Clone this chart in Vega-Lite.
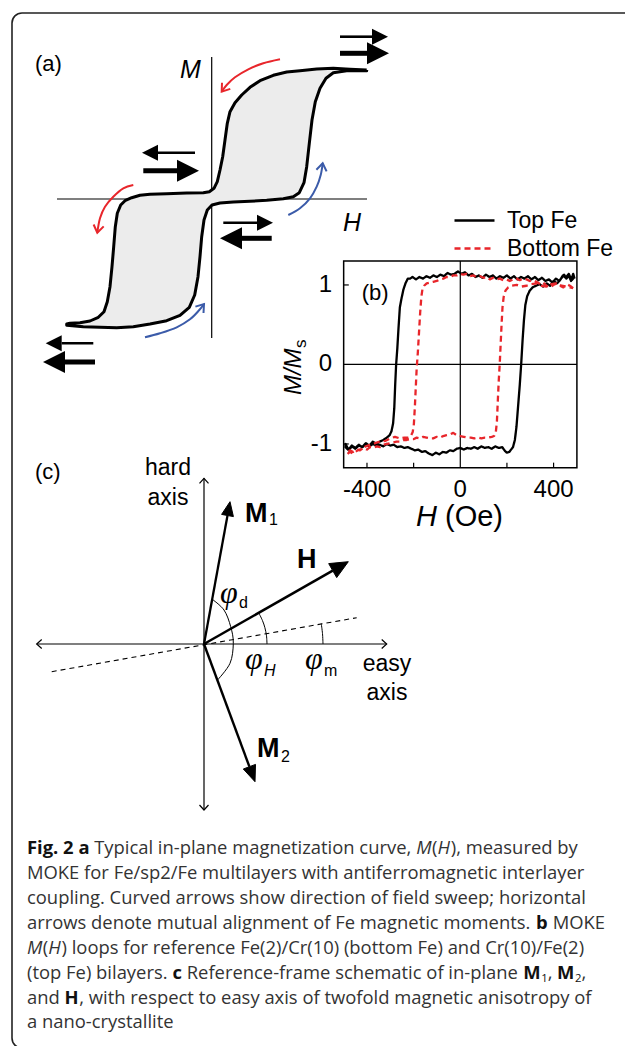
{
"$schema":"https://vega.github.io/schema/vega-lite/v6.json",
"width":625,"height":1046,
"autosize":{"type":"none"},
"padding":0,
"background":"white",
"config":{"view":{"stroke":null},"text":{"font":"Liberation Sans"}},
"resolve":{"scale":{"x":"independent","y":"independent"}},
"datasets":{
"loopA":[{"h":1.557,"m":1.29},{"h":1.39,"m":1.297},{"h":1.223,"m":1.307},{"h":1.057,"m":1.3},{"h":0.89,"m":1.283},{"h":0.757,"m":1.27},{"h":0.623,"m":1.237},{"h":0.49,"m":1.183},{"h":0.39,"m":1.117},{"h":0.307,"m":1.04},{"h":0.24,"m":0.963},{"h":0.19,"m":0.873},{"h":0.163,"m":0.757},{"h":0.14,"m":0.59},{"h":0.117,"m":0.423},{"h":0.09,"m":0.29},{"h":0.063,"m":0.173},{"h":0.03,"m":0.107},{"h":-0.017,"m":0.073},{"h":-0.077,"m":0.063},{"h":-0.243,"m":0.06},{"h":-0.443,"m":0.053},{"h":-0.61,"m":0.047},{"h":-0.71,"m":0.037},{"h":-0.793,"m":0.013},{"h":-0.86,"m":-0.017},{"h":-0.903,"m":-0.06},{"h":-0.937,"m":-0.143},{"h":-0.957,"m":-0.277},{"h":-0.973,"m":-0.477},{"h":-0.99,"m":-0.677},{"h":-1.01,"m":-0.877},{"h":-1.037,"m":-1.027},{"h":-1.07,"m":-1.127},{"h":-1.127,"m":-1.183},{"h":-1.21,"m":-1.22},{"h":-1.31,"m":-1.237},{"h":-1.41,"m":-1.243},{"h":-1.443,"m":-1.25},{"h":-1.443,"m":-1.263},{"h":-1.277,"m":-1.277},{"h":-1.11,"m":-1.283},{"h":-0.943,"m":-1.287},{"h":-0.777,"m":-1.277},{"h":-0.61,"m":-1.25},{"h":-0.443,"m":-1.217},{"h":-0.31,"m":-1.163},{"h":-0.217,"m":-1.083},{"h":-0.163,"m":-0.96},{"h":-0.13,"m":-0.777},{"h":-0.11,"m":-0.577},{"h":-0.093,"m":-0.377},{"h":-0.07,"m":-0.21},{"h":-0.037,"m":-0.11},{"h":0.01,"m":-0.06},{"h":0.09,"m":-0.04},{"h":0.223,"m":-0.03},{"h":0.39,"m":-0.023},{"h":0.557,"m":-0.013},{"h":0.723,"m":0.003},{"h":0.823,"m":0.023},{"h":0.883,"m":0.063},{"h":0.93,"m":0.163},{"h":0.957,"m":0.323},{"h":0.983,"m":0.557},{"h":1.01,"m":0.79},{"h":1.043,"m":0.973},{"h":1.09,"m":1.107},{"h":1.15,"m":1.207},{"h":1.223,"m":1.263},{"h":1.357,"m":1.283},{"h":1.557,"m":1.283},{"h":1.557,"m":1.29}],
"spinA":[{"pair":"TR","layer":"thin","dir":"right","h0":1.29,"h1":1.61,"m":1.623},{"pair":"TR","layer":"thick","dir":"right","h0":1.29,"h1":1.56,"m":1.457},{"pair":"ML","layer":"thin","dir":"left","h0":-0.16,"h1":-0.53,"m":0.463},{"pair":"ML","layer":"thick","dir":"right","h0":-0.677,"h1":-0.34,"m":0.283},{"pair":"RM","layer":"thin","dir":"right","h0":0.123,"h1":0.46,"m":-0.237},{"pair":"RM","layer":"thick","dir":"left","h0":0.607,"h1":0.31,"m":-0.393},{"pair":"BL","layer":"thin","dir":"left","h0":-1.177,"h1":-1.493,"m":-1.443},{"pair":"BL","layer":"thick","dir":"left","h0":-1.16,"h1":-1.46,"m":-1.63}],
"sweepArcs":[{"seg":"r1","sweep":"down","h":0.69,"m":1.397},{"seg":"r1","sweep":"down","h":0.523,"m":1.357},{"seg":"r1","sweep":"down","h":0.373,"m":1.297},{"seg":"r1","sweep":"down","h":0.24,"m":1.217},{"seg":"r1","sweep":"down","h":0.157,"m":1.14},{"seg":"r1","sweep":"down","h":0.107,"m":1.073},
{"seg":"r2","sweep":"down","h":-0.777,"m":0.14},{"seg":"r2","sweep":"down","h":-0.877,"m":0.107},{"seg":"r2","sweep":"down","h":-0.977,"m":0.023},{"seg":"r2","sweep":"down","h":-1.06,"m":-0.077},{"seg":"r2","sweep":"down","h":-1.11,"m":-0.193},{"seg":"r2","sweep":"down","h":-1.137,"m":-0.337},
{"seg":"b1","sweep":"up","h":-0.66,"m":-1.383},{"seg":"b1","sweep":"up","h":-0.51,"m":-1.343},{"seg":"b1","sweep":"up","h":-0.343,"m":-1.283},{"seg":"b1","sweep":"up","h":-0.21,"m":-1.203},{"seg":"b1","sweep":"up","h":-0.117,"m":-1.11},{"seg":"b1","sweep":"up","h":-0.07,"m":-1.05},
{"seg":"b2","sweep":"up","h":0.773,"m":-0.16},{"seg":"b2","sweep":"up","h":0.89,"m":-0.093},{"seg":"b2","sweep":"up","h":0.99,"m":0.007},{"seg":"b2","sweep":"up","h":1.057,"m":0.123},{"seg":"b2","sweep":"up","h":1.097,"m":0.24},{"seg":"b2","sweep":"up","h":1.117,"m":0.357}],
"sweepHeads":[{"seg":"r1","sweep":"down","h":0.193,"m":1.101},{"seg":"r1","sweep":"down","h":0.107,"m":1.073},{"seg":"r1","sweep":"down","h":0.11,"m":1.163},
{"seg":"r2","sweep":"down","h":-1.073,"m":-0.274},{"seg":"r2","sweep":"down","h":-1.137,"m":-0.337},{"seg":"r2","sweep":"down","h":-1.174,"m":-0.255},
{"seg":"b1","sweep":"up","h":-0.156,"m":-1.076},{"seg":"b1","sweep":"up","h":-0.07,"m":-1.05},{"seg":"b1","sweep":"up","h":-0.075,"m":-1.14},
{"seg":"b2","sweep":"up","h":1.054,"m":0.293},{"seg":"b2","sweep":"up","h":1.117,"m":0.357},{"seg":"b2","sweep":"up","h":1.156,"m":0.276}],
"moke":[
{"s":"Top Fe","H":490,"M":1.1},{"s":"Top Fe","H":478,"M":1.06},{"s":"Top Fe","H":465,"M":1.14},{"s":"Top Fe","H":452,"M":1.09},{"s":"Top Fe","H":440,"M":1.12},{"s":"Top Fe","H":425,"M":1.05},{"s":"Top Fe","H":410,"M":1.08},{"s":"Top Fe","H":395,"M":1.03},{"s":"Top Fe","H":380,"M":1.07},{"s":"Top Fe","H":365,"M":1.05},{"s":"Top Fe","H":350,"M":1.09},{"s":"Top Fe","H":335,"M":1.06},{"s":"Top Fe","H":320,"M":1.1},{"s":"Top Fe","H":305,"M":1.07},{"s":"Top Fe","H":290,"M":1.11},{"s":"Top Fe","H":275,"M":1.08},{"s":"Top Fe","H":260,"M":1.1},{"s":"Top Fe","H":245,"M":1.07},{"s":"Top Fe","H":230,"M":1.11},{"s":"Top Fe","H":215,"M":1.08},{"s":"Top Fe","H":200,"M":1.12},{"s":"Top Fe","H":185,"M":1.09},{"s":"Top Fe","H":170,"M":1.11},{"s":"Top Fe","H":155,"M":1.08},{"s":"Top Fe","H":140,"M":1.12},{"s":"Top Fe","H":125,"M":1.1},{"s":"Top Fe","H":110,"M":1.13},{"s":"Top Fe","H":95,"M":1.09},{"s":"Top Fe","H":80,"M":1.12},{"s":"Top Fe","H":65,"M":1.1},{"s":"Top Fe","H":50,"M":1.14},{"s":"Top Fe","H":35,"M":1.12},{"s":"Top Fe","H":20,"M":1.16},{"s":"Top Fe","H":5,"M":1.14},{"s":"Top Fe","H":-10,"M":1.17},{"s":"Top Fe","H":-25,"M":1.14},{"s":"Top Fe","H":-40,"M":1.13},{"s":"Top Fe","H":-55,"M":1.15},{"s":"Top Fe","H":-70,"M":1.11},{"s":"Top Fe","H":-85,"M":1.13},{"s":"Top Fe","H":-100,"M":1.1},{"s":"Top Fe","H":-115,"M":1.12},{"s":"Top Fe","H":-130,"M":1.09},{"s":"Top Fe","H":-145,"M":1.11},{"s":"Top Fe","H":-160,"M":1.08},{"s":"Top Fe","H":-175,"M":1.1},{"s":"Top Fe","H":-190,"M":1.07},{"s":"Top Fe","H":-205,"M":1.1},{"s":"Top Fe","H":-215,"M":1.08},{"s":"Top Fe","H":-225,"M":1.08},{"s":"Top Fe","H":-235,"M":1.02},{"s":"Top Fe","H":-244,"M":0.94},{"s":"Top Fe","H":-252,"M":0.83},{"s":"Top Fe","H":-259,"M":0.72},{"s":"Top Fe","H":-265,"M":0.45},{"s":"Top Fe","H":-270,"M":0.2},{"s":"Top Fe","H":-275,"M":0.0},{"s":"Top Fe","H":-279,"M":-0.25},{"s":"Top Fe","H":-283,"M":-0.55},{"s":"Top Fe","H":-288,"M":-0.74},{"s":"Top Fe","H":-295,"M":-0.84},{"s":"Top Fe","H":-303,"M":-0.89},{"s":"Top Fe","H":-315,"M":-0.92},{"s":"Top Fe","H":-330,"M":-0.95},{"s":"Top Fe","H":-345,"M":-0.97},{"s":"Top Fe","H":-360,"M":-1.0},{"s":"Top Fe","H":-375,"M":-0.97},{"s":"Top Fe","H":-390,"M":-1.02},{"s":"Top Fe","H":-405,"M":-0.99},{"s":"Top Fe","H":-420,"M":-1.04},{"s":"Top Fe","H":-435,"M":-1.01},{"s":"Top Fe","H":-450,"M":-1.05},{"s":"Top Fe","H":-465,"M":-1.02},{"s":"Top Fe","H":-480,"M":-1.07},{"s":"Top Fe","H":-492,"M":-1.0},
{"s":"Top Fe","H":-492,"M":-1.04},{"s":"Top Fe","H":-478,"M":-1.08},{"s":"Top Fe","H":-465,"M":-1.03},{"s":"Top Fe","H":-450,"M":-1.06},{"s":"Top Fe","H":-435,"M":-1.02},{"s":"Top Fe","H":-420,"M":-1.04},{"s":"Top Fe","H":-405,"M":-1.01},{"s":"Top Fe","H":-390,"M":-1.03},{"s":"Top Fe","H":-375,"M":-1.0},{"s":"Top Fe","H":-360,"M":-1.02},{"s":"Top Fe","H":-345,"M":-1.01},{"s":"Top Fe","H":-330,"M":-1.03},{"s":"Top Fe","H":-315,"M":-1.0},{"s":"Top Fe","H":-300,"M":-1.02},{"s":"Top Fe","H":-285,"M":-1.01},{"s":"Top Fe","H":-270,"M":-1.04},{"s":"Top Fe","H":-255,"M":-1.03},{"s":"Top Fe","H":-240,"M":-1.05},{"s":"Top Fe","H":-225,"M":-1.04},{"s":"Top Fe","H":-210,"M":-1.06},{"s":"Top Fe","H":-195,"M":-1.08},{"s":"Top Fe","H":-180,"M":-1.07},{"s":"Top Fe","H":-165,"M":-1.1},{"s":"Top Fe","H":-150,"M":-1.09},{"s":"Top Fe","H":-135,"M":-1.12},{"s":"Top Fe","H":-120,"M":-1.14},{"s":"Top Fe","H":-105,"M":-1.11},{"s":"Top Fe","H":-90,"M":-1.13},{"s":"Top Fe","H":-75,"M":-1.1},{"s":"Top Fe","H":-60,"M":-1.11},{"s":"Top Fe","H":-45,"M":-1.08},{"s":"Top Fe","H":-30,"M":-1.09},{"s":"Top Fe","H":-15,"M":-1.06},{"s":"Top Fe","H":0,"M":-1.05},{"s":"Top Fe","H":15,"M":-1.07},{"s":"Top Fe","H":30,"M":-1.05},{"s":"Top Fe","H":45,"M":-1.06},{"s":"Top Fe","H":60,"M":-1.04},{"s":"Top Fe","H":75,"M":-1.06},{"s":"Top Fe","H":90,"M":-1.03},{"s":"Top Fe","H":105,"M":-1.05},{"s":"Top Fe","H":120,"M":-1.04},{"s":"Top Fe","H":135,"M":-1.06},{"s":"Top Fe","H":150,"M":-1.03},{"s":"Top Fe","H":165,"M":-1.05},{"s":"Top Fe","H":180,"M":-1.04},{"s":"Top Fe","H":192,"M":-1.09},{"s":"Top Fe","H":200,"M":-1.11},{"s":"Top Fe","H":210,"M":-1.1},{"s":"Top Fe","H":226,"M":-1.04},{"s":"Top Fe","H":234,"M":-0.95},{"s":"Top Fe","H":241,"M":-0.78},{"s":"Top Fe","H":248,"M":-0.52},{"s":"Top Fe","H":255,"M":-0.26},{"s":"Top Fe","H":261,"M":0.0},{"s":"Top Fe","H":267,"M":0.3},{"s":"Top Fe","H":273,"M":0.56},{"s":"Top Fe","H":279,"M":0.75},{"s":"Top Fe","H":287,"M":0.86},{"s":"Top Fe","H":298,"M":0.93},{"s":"Top Fe","H":310,"M":0.97},{"s":"Top Fe","H":325,"M":0.99},{"s":"Top Fe","H":340,"M":1.01},{"s":"Top Fe","H":355,"M":0.98},{"s":"Top Fe","H":370,"M":1.02},{"s":"Top Fe","H":385,"M":0.99},{"s":"Top Fe","H":400,"M":1.05},{"s":"Top Fe","H":415,"M":1.02},{"s":"Top Fe","H":430,"M":1.07},{"s":"Top Fe","H":445,"M":1.13},{"s":"Top Fe","H":455,"M":1.08},{"s":"Top Fe","H":465,"M":1.12},{"s":"Top Fe","H":475,"M":1.05},{"s":"Top Fe","H":484,"M":1.14},{"s":"Top Fe","H":490,"M":1.08},
{"s":"Bottom Fe","H":484,"M":0.96},{"s":"Bottom Fe","H":470,"M":0.99},{"s":"Bottom Fe","H":456,"M":1.01},{"s":"Bottom Fe","H":442,"M":0.97},{"s":"Bottom Fe","H":427,"M":0.99},{"s":"Bottom Fe","H":413,"M":1.02},{"s":"Bottom Fe","H":399,"M":1.0},{"s":"Bottom Fe","H":385,"M":0.97},{"s":"Bottom Fe","H":370,"M":0.99},{"s":"Bottom Fe","H":356,"M":1.03},{"s":"Bottom Fe","H":342,"M":1.01},{"s":"Bottom Fe","H":327,"M":1.04},{"s":"Bottom Fe","H":313,"M":1.06},{"s":"Bottom Fe","H":298,"M":1.05},{"s":"Bottom Fe","H":284,"M":1.07},{"s":"Bottom Fe","H":270,"M":1.08},{"s":"Bottom Fe","H":255,"M":1.06},{"s":"Bottom Fe","H":241,"M":1.08},{"s":"Bottom Fe","H":227,"M":1.07},{"s":"Bottom Fe","H":212,"M":1.05},{"s":"Bottom Fe","H":198,"M":1.07},{"s":"Bottom Fe","H":184,"M":1.06},{"s":"Bottom Fe","H":170,"M":1.08},{"s":"Bottom Fe","H":155,"M":1.07},{"s":"Bottom Fe","H":141,"M":1.09},{"s":"Bottom Fe","H":127,"M":1.07},{"s":"Bottom Fe","H":113,"M":1.1},{"s":"Bottom Fe","H":99,"M":1.09},{"s":"Bottom Fe","H":85,"M":1.11},{"s":"Bottom Fe","H":70,"M":1.1},{"s":"Bottom Fe","H":56,"M":1.12},{"s":"Bottom Fe","H":42,"M":1.11},{"s":"Bottom Fe","H":27,"M":1.14},{"s":"Bottom Fe","H":13,"M":1.13},{"s":"Bottom Fe","H":0,"M":1.14},{"s":"Bottom Fe","H":-15,"M":1.12},{"s":"Bottom Fe","H":-30,"M":1.12},{"s":"Bottom Fe","H":-45,"M":1.1},{"s":"Bottom Fe","H":-59,"M":1.1},{"s":"Bottom Fe","H":-73,"M":1.08},{"s":"Bottom Fe","H":-87,"M":1.07},{"s":"Bottom Fe","H":-101,"M":1.05},{"s":"Bottom Fe","H":-116,"M":1.04},{"s":"Bottom Fe","H":-130,"M":1.03},{"s":"Bottom Fe","H":-144,"M":1.02},{"s":"Bottom Fe","H":-155,"M":0.99},{"s":"Bottom Fe","H":-162,"M":0.95},{"s":"Bottom Fe","H":-167,"M":0.85},{"s":"Bottom Fe","H":-172,"M":0.65},{"s":"Bottom Fe","H":-177,"M":0.4},{"s":"Bottom Fe","H":-182,"M":0.15},{"s":"Bottom Fe","H":-187,"M":-0.05},{"s":"Bottom Fe","H":-191,"M":-0.3},{"s":"Bottom Fe","H":-195,"M":-0.55},{"s":"Bottom Fe","H":-199,"M":-0.75},{"s":"Bottom Fe","H":-204,"M":-0.85},{"s":"Bottom Fe","H":-212,"M":-0.9},{"s":"Bottom Fe","H":-223,"M":-0.92},{"s":"Bottom Fe","H":-240,"M":-0.92},{"s":"Bottom Fe","H":-259,"M":-0.93},{"s":"Bottom Fe","H":-280,"M":-0.91},{"s":"Bottom Fe","H":-301,"M":-0.93},{"s":"Bottom Fe","H":-320,"M":-0.96},{"s":"Bottom Fe","H":-344,"M":-0.97},{"s":"Bottom Fe","H":-365,"M":-0.99},{"s":"Bottom Fe","H":-387,"M":-1.01},{"s":"Bottom Fe","H":-405,"M":-1.03},{"s":"Bottom Fe","H":-423,"M":-1.06},{"s":"Bottom Fe","H":-440,"M":-1.08},{"s":"Bottom Fe","H":-459,"M":-1.12},{"s":"Bottom Fe","H":-473,"M":-1.1},{"s":"Bottom Fe","H":-485,"M":-1.13},
{"s":"Bottom Fe","H":-485,"M":-1.11},{"s":"Bottom Fe","H":-473,"M":-1.08},{"s":"Bottom Fe","H":-459,"M":-1.1},{"s":"Bottom Fe","H":-445,"M":-1.07},{"s":"Bottom Fe","H":-430,"M":-1.08},{"s":"Bottom Fe","H":-415,"M":-1.05},{"s":"Bottom Fe","H":-400,"M":-1.07},{"s":"Bottom Fe","H":-387,"M":-1.04},{"s":"Bottom Fe","H":-372,"M":-1.05},{"s":"Bottom Fe","H":-358,"M":-1.03},{"s":"Bottom Fe","H":-344,"M":-1.04},{"s":"Bottom Fe","H":-330,"M":-1.01},{"s":"Bottom Fe","H":-315,"M":-1.0},{"s":"Bottom Fe","H":-301,"M":-0.99},{"s":"Bottom Fe","H":-287,"M":-0.98},{"s":"Bottom Fe","H":-273,"M":-0.97},{"s":"Bottom Fe","H":-259,"M":-0.97},{"s":"Bottom Fe","H":-245,"M":-0.95},{"s":"Bottom Fe","H":-230,"M":-0.95},{"s":"Bottom Fe","H":-215,"M":-0.94},{"s":"Bottom Fe","H":-201,"M":-0.94},{"s":"Bottom Fe","H":-187,"M":-0.92},{"s":"Bottom Fe","H":-173,"M":-0.93},{"s":"Bottom Fe","H":-159,"M":-0.91},{"s":"Bottom Fe","H":-145,"M":-0.92},{"s":"Bottom Fe","H":-130,"M":-0.93},{"s":"Bottom Fe","H":-116,"M":-0.93},{"s":"Bottom Fe","H":-101,"M":-0.91},{"s":"Bottom Fe","H":-87,"M":-0.92},{"s":"Bottom Fe","H":-73,"M":-0.9},{"s":"Bottom Fe","H":-59,"M":-0.89},{"s":"Bottom Fe","H":-45,"M":-0.88},{"s":"Bottom Fe","H":-30,"M":-0.86},{"s":"Bottom Fe","H":-15,"M":-0.89},{"s":"Bottom Fe","H":0,"M":-0.9},{"s":"Bottom Fe","H":15,"M":-0.91},{"s":"Bottom Fe","H":30,"M":-0.92},{"s":"Bottom Fe","H":45,"M":-0.92},{"s":"Bottom Fe","H":60,"M":-0.93},{"s":"Bottom Fe","H":75,"M":-0.92},{"s":"Bottom Fe","H":90,"M":-0.93},{"s":"Bottom Fe","H":105,"M":-0.92},{"s":"Bottom Fe","H":120,"M":-0.92},{"s":"Bottom Fe","H":135,"M":-0.91},{"s":"Bottom Fe","H":145,"M":-0.9},{"s":"Bottom Fe","H":152,"M":-0.86},{"s":"Bottom Fe","H":157,"M":-0.72},{"s":"Bottom Fe","H":161,"M":-0.45},{"s":"Bottom Fe","H":165,"M":-0.2},{"s":"Bottom Fe","H":169,"M":0.0},{"s":"Bottom Fe","H":173,"M":0.25},{"s":"Bottom Fe","H":177,"M":0.5},{"s":"Bottom Fe","H":181,"M":0.72},{"s":"Bottom Fe","H":186,"M":0.85},{"s":"Bottom Fe","H":194,"M":0.93},{"s":"Bottom Fe","H":206,"M":0.97},{"s":"Bottom Fe","H":220,"M":0.99},{"s":"Bottom Fe","H":242,"M":1.0},{"s":"Bottom Fe","H":263,"M":0.98},{"s":"Bottom Fe","H":284,"M":0.99},{"s":"Bottom Fe","H":305,"M":1.01},{"s":"Bottom Fe","H":327,"M":1.02},{"s":"Bottom Fe","H":348,"M":0.99},{"s":"Bottom Fe","H":370,"M":0.98},{"s":"Bottom Fe","H":391,"M":1.01},{"s":"Bottom Fe","H":413,"M":1.02},{"s":"Bottom Fe","H":434,"M":0.99},{"s":"Bottom Fe","H":456,"M":0.98},{"s":"Bottom Fe","H":470,"M":0.97},{"s":"Bottom Fe","H":484,"M":0.96}],
"linesC":[{"seg":"easy","u":-1.673,"v":0},{"seg":"easy","u":1.827,"v":0},{"seg":"eL","u":-1.623,"v":0.045},{"seg":"eL","u":-1.673,"v":0},{"seg":"eL","u":-1.623,"v":-0.045},{"seg":"eR","u":1.777,"v":0.045},{"seg":"eR","u":1.827,"v":0},{"seg":"eR","u":1.777,"v":-0.045},{"seg":"hard","u":0,"v":-1.66},{"seg":"hard","u":0,"v":1.657},{"seg":"hT","u":-0.045,"v":1.607},{"seg":"hT","u":0,"v":1.657},{"seg":"hT","u":0.045,"v":1.607},{"seg":"hB","u":-0.045,"v":-1.61},{"seg":"hB","u":0,"v":-1.66},{"seg":"hB","u":0.045,"v":-1.61}],
"arcsC":[{"seg":"phid","u":0.082,"v":0.447},{"seg":"phid","u":0.2,"v":0.34},{"seg":"phid","u":0.267,"v":0.173},{"seg":"phid","u":0.293,"v":0.007},{"seg":"phid","u":0.26,"v":-0.193},{"seg":"phid","u":0.135,"v":-0.36},{"seg":"phiH","u":0.547,"v":0.312},{"seg":"phiH","u":0.584,"v":0.236},{"seg":"phiH","u":0.609,"v":0.163},{"seg":"phiH","u":0.625,"v":0.082},{"seg":"phiH","u":0.63,"v":0},{"seg":"phim","u":1.172,"v":0.207},{"seg":"phim","u":1.185,"v":0.104},{"seg":"phim","u":1.19,"v":0}],
"shaftsC":[{"vector":"M1","u0":0,"v0":0,"u1":0.235,"v1":1.285},{"vector":"H","u0":0,"v0":0,"u1":1.287,"v1":0.734},{"vector":"M2","u0":0,"v0":0,"u1":0.454,"v1":-1.227}],
"headsC":[{"vector":"M1","u":0.26,"v":1.423},{"vector":"M1","u":0.294,"v":1.274},{"vector":"M1","u":0.176,"v":1.296},{"vector":"M1","u":0.26,"v":1.423},{"vector":"H","u":1.443,"v":0.823},{"vector":"H","u":1.327,"v":0.664},{"vector":"H","u":1.247,"v":0.804},{"vector":"H","u":1.443,"v":0.823},{"vector":"M2","u":0.51,"v":-1.377},{"vector":"M2","u":0.515,"v":-1.204},{"vector":"M2","u":0.393,"v":-1.25},{"vector":"M2","u":0.51,"v":-1.377}],
"caption":[
{"st":"b","ln":1,"em":0,"t":"Fig. 2 a"},{"st":"n","ln":1,"em":3.65,"t":"Typical in-plane magnetization curve,"},{"st":"i","ln":1,"em":21.157,"t":"M"},{"st":"n","ln":1,"em":22.017,"t":"("},{"st":"i","ln":1,"em":22.313,"t":"H"},{"st":"n","ln":1,"em":23.033,"t":"), measured by"},
{"st":"n","ln":2,"em":0,"t":"MOKE for Fe/sp2/Fe multilayers with antiferromagnetic interlayer"},
{"st":"n","ln":3,"em":0,"t":"coupling. Curved arrows show direction of field sweep; horizontal"},
{"st":"n","ln":4,"em":0,"t":"arrows denote mutual alignment of Fe magnetic moments."},{"st":"b","ln":4,"em":27.667,"t":"b"},{"st":"n","ln":4,"em":28.567,"t":"MOKE"},
{"st":"i","ln":5,"em":0,"t":"M"},{"st":"n","ln":5,"em":0.86,"t":"("},{"st":"i","ln":5,"em":1.156,"t":"H"},{"st":"n","ln":5,"em":1.876,"t":") loops for reference Fe(2)/Cr(10) (bottom Fe) and Cr(10)/Fe(2)"},
{"st":"n","ln":6,"em":0,"t":"(top Fe) bilayers."},{"st":"b","ln":6,"em":7.91,"t":"c"},{"st":"n","ln":6,"em":8.68,"t":"Reference-frame schematic of in-plane"},{"st":"b","ln":6,"em":26.969,"t":"M"},{"st":"s","ln":6,"em":27.949,"t":"1"},{"st":"n","ln":6,"em":28.3,"t":","},{"st":"b","ln":6,"em":28.805,"t":"M"},{"st":"s","ln":6,"em":29.785,"t":"2"},{"st":"n","ln":6,"em":30.135,"t":","},
{"st":"n","ln":7,"em":0,"t":"and"},{"st":"b","ln":7,"em":2.043,"t":"H"},{"st":"n","ln":7,"em":2.843,"t":", with respect to easy axis of twofold magnetic anisotropy of"},
{"st":"n","ln":8,"em":0,"t":"a nano-crystallite"}]
},
"layer":[
{"data":{"values":[{"left":12,"right":640,"top":13,"bottom":1048}]},
 "mark":{"type":"rect","fill":"transparent","stroke":"#222222","strokeWidth":1.6,"cornerRadius":10},
 "encoding":{"x":{"field":"left","type":"quantitative","scale":{"domain":[0,625],"nice":false,"zero":false},"axis":null},"x2":{"field":"right"},
  "y":{"field":"top","type":"quantitative","scale":{"domain":[0,1046],"nice":false,"zero":false,"reverse":true},"axis":null},"y2":{"field":"bottom"}}},

{"data":{"values":[{"h0":0.007,"h1":0.007,"m0":1.42,"m1":-1.39},{"h0":-1.54,"h1":1.56,"m0":0,"m1":0}]},
 "mark":{"type":"rule","color":"black","strokeWidth":1.2},
 "encoding":{"x":{"field":"h0","type":"quantitative","scale":{"domain":[-2.11,4.14],"nice":false,"zero":false},"axis":null},"x2":{"field":"h1"},
  "y":{"field":"m0","type":"quantitative","scale":{"domain":[-8.47,1.99],"nice":false,"zero":false},"axis":null},"y2":{"field":"m1"}}},

{"data":{"name":"loopA"},
 "mark":{"type":"line","fill":"#ececec","stroke":"black","strokeWidth":3,"strokeJoin":"round"},
 "encoding":{"x":{"field":"h","type":"quantitative","scale":{"domain":[-2.11,4.14],"nice":false,"zero":false},"axis":null},
  "y":{"field":"m","type":"quantitative","scale":{"domain":[-8.47,1.99],"nice":false,"zero":false},"axis":null},"order":{"value":null}}},

{"data":{"name":"spinA"},"transform":[{"filter":"datum.layer==='thin'"}],
 "mark":{"type":"rule","color":"black","strokeWidth":2.6},
 "encoding":{"x":{"field":"h0","type":"quantitative","scale":{"domain":[-2.11,4.14],"nice":false,"zero":false},"axis":null},"x2":{"field":"h1"},
  "y":{"field":"m","type":"quantitative","scale":{"domain":[-8.47,1.99],"nice":false,"zero":false},"axis":null}}},
{"data":{"name":"spinA"},"transform":[{"filter":"datum.layer==='thick'"}],
 "mark":{"type":"rule","color":"black","strokeWidth":5},
 "encoding":{"x":{"field":"h0","type":"quantitative","scale":{"domain":[-2.11,4.14],"nice":false,"zero":false},"axis":null},"x2":{"field":"h1"},
  "y":{"field":"m","type":"quantitative","scale":{"domain":[-8.47,1.99],"nice":false,"zero":false},"axis":null}}},
{"data":{"name":"spinA"},"transform":[{"filter":"datum.layer==='thin'"}],
 "mark":{"type":"point","filled":true,"color":"black","opacity":1,"size":256,"strokeWidth":0},
 "encoding":{"x":{"field":"h1","type":"quantitative","scale":{"domain":[-2.11,4.14],"nice":false,"zero":false},"axis":null},
  "y":{"field":"m","type":"quantitative","scale":{"domain":[-8.47,1.99],"nice":false,"zero":false},"axis":null},
  "shape":{"field":"dir","type":"nominal","scale":{"domain":["right","left"],"range":["M0,-1L2,0L0,1Z","M0,-1L-2,0L0,1Z"]},"legend":null}}},
{"data":{"name":"spinA"},"transform":[{"filter":"datum.layer==='thick'"}],
 "mark":{"type":"point","filled":true,"color":"black","opacity":1,"size":484,"strokeWidth":0},
 "encoding":{"x":{"field":"h1","type":"quantitative","scale":{"domain":[-2.11,4.14],"nice":false,"zero":false},"axis":null},
  "y":{"field":"m","type":"quantitative","scale":{"domain":[-8.47,1.99],"nice":false,"zero":false},"axis":null},
  "shape":{"field":"dir","type":"nominal","scale":{"domain":["right","left"],"range":["M0,-1L2,0L0,1Z","M0,-1L-2,0L0,1Z"]},"legend":null}}},

{"data":{"name":"sweepArcs"},
 "mark":{"type":"line","interpolate":"cardinal","strokeWidth":2},
 "encoding":{"x":{"field":"h","type":"quantitative","scale":{"domain":[-2.11,4.14],"nice":false,"zero":false},"axis":null},
  "y":{"field":"m","type":"quantitative","scale":{"domain":[-8.47,1.99],"nice":false,"zero":false},"axis":null},
  "detail":{"field":"seg"},"order":{"value":null},
  "stroke":{"field":"sweep","type":"nominal","scale":{"domain":["down","up"],"range":["#e8262b","#3b5ba9"]},"legend":null}}},
{"data":{"name":"sweepHeads"},
 "mark":{"type":"line","strokeWidth":2,"strokeJoin":"miter"},
 "encoding":{"x":{"field":"h","type":"quantitative","scale":{"domain":[-2.11,4.14],"nice":false,"zero":false},"axis":null},
  "y":{"field":"m","type":"quantitative","scale":{"domain":[-8.47,1.99],"nice":false,"zero":false},"axis":null},
  "detail":{"field":"seg"},"order":{"value":null},
  "stroke":{"field":"sweep","type":"nominal","scale":{"domain":["down","up"],"range":["#e8262b","#3b5ba9"]},"legend":null}}},

{"data":{"values":[{"t":"(a)","h":-1.76,"m":1.28}]},
 "mark":{"type":"text","fontSize":22,"align":"left","baseline":"alphabetic","color":"black"},
 "encoding":{"x":{"field":"h","type":"quantitative","scale":{"domain":[-2.11,4.14],"nice":false,"zero":false},"axis":null},
  "y":{"field":"m","type":"quantitative","scale":{"domain":[-8.47,1.99],"nice":false,"zero":false},"axis":null},"text":{"field":"t"}}},
{"data":{"values":[{"t":"M","h":-0.31,"m":1.21},{"t":"H","h":1.32,"m":-0.32}]},
 "mark":{"type":"text","fontSize":25,"fontStyle":"italic","align":"left","baseline":"alphabetic","color":"black"},
 "encoding":{"x":{"field":"h","type":"quantitative","scale":{"domain":[-2.11,4.14],"nice":false,"zero":false},"axis":null},
  "y":{"field":"m","type":"quantitative","scale":{"domain":[-8.47,1.99],"nice":false,"zero":false},"axis":null},"text":{"field":"t"}}},

{"data":{"values":[{"H0":-500,"H1":500,"M0":-1.3,"M1":1.3}]},
 "mark":{"type":"rect","fill":"white","stroke":"black","strokeWidth":1.5},
 "encoding":{"x":{"field":"H0","type":"quantitative","scale":{"domain":[-1973.4,706.2],"nice":false,"zero":false},"axis":null},"x2":{"field":"H1"},
  "y":{"field":"M0","type":"quantitative","scale":{"domain":[-8.572,4.584],"nice":false,"zero":false},"axis":null},"y2":{"field":"M1"}}},
{"data":{"values":[{"H0":0,"H1":0,"M0":-1.3,"M1":1.3},{"H0":-500,"H1":500,"M0":0,"M1":0}]},
 "mark":{"type":"rule","color":"black","strokeWidth":1.2},
 "encoding":{"x":{"field":"H0","type":"quantitative","scale":{"domain":[-1973.4,706.2],"nice":false,"zero":false},"axis":null},"x2":{"field":"H1"},
  "y":{"field":"M0","type":"quantitative","scale":{"domain":[-8.572,4.584],"nice":false,"zero":false},"axis":null},"y2":{"field":"M1"}}},
{"data":{"values":[{"H":-400},{"H":-200},{"H":200},{"H":400}]},
 "mark":{"type":"rule","color":"black","strokeWidth":1.2},
 "encoding":{"x":{"field":"H","type":"quantitative","scale":{"domain":[-1973.4,706.2],"nice":false,"zero":false},"axis":null},
  "y":{"datum":-1.3,"type":"quantitative","scale":{"domain":[-8.572,4.584],"nice":false,"zero":false},"axis":null},"y2":{"datum":-1.235}}},
{"data":{"values":[{"M":-1},{"M":1}]},
 "mark":{"type":"rule","color":"black","strokeWidth":1.2},
 "encoding":{"y":{"field":"M","type":"quantitative","scale":{"domain":[-8.572,4.584],"nice":false,"zero":false},"axis":null},
  "x":{"datum":-500,"type":"quantitative","scale":{"domain":[-1973.4,706.2],"nice":false,"zero":false},"axis":null},"x2":{"datum":-478}}},
{"data":{"name":"moke"},
 "mark":{"type":"line","strokeWidth":2.3,"strokeJoin":"round"},
 "encoding":{"x":{"field":"H","type":"quantitative","scale":{"domain":[-1973.4,706.2],"nice":false,"zero":false},"axis":null},
  "y":{"field":"M","type":"quantitative","scale":{"domain":[-8.572,4.584],"nice":false,"zero":false},"axis":null},
  "order":{"value":null},
  "color":{"field":"s","type":"nominal","scale":{"domain":["Top Fe","Bottom Fe"],"range":["#000000","#e8262b"]},
   "legend":{"title":null,"orient":"none","legendX":463,"legendY":209,"symbolType":"M-2,0H2","symbolSize":400,"symbolStrokeWidth":2.5,"labelFontSize":23,"labelFont":"Liberation Sans","labelColor":"black","labelOffset":21,"rowPadding":4,"padding":0}},
  "strokeDash":{"field":"s","type":"nominal","scale":{"domain":["Top Fe","Bottom Fe"],"range":[[1,0],[6,4]]},
   "legend":{"title":null,"orient":"none","legendX":463,"legendY":209,"symbolType":"M-2,0H2","symbolSize":400,"symbolStrokeWidth":2.5,"labelFontSize":23,"labelFont":"Liberation Sans","labelColor":"black","labelOffset":21,"rowPadding":4,"padding":0}}}},
{"data":{"values":[{"H":-400,"t":"-400"},{"H":0,"t":"0"},{"H":400,"t":"400"}]},
 "mark":{"type":"text","fontSize":24,"align":"center","baseline":"alphabetic","color":"black"},
 "encoding":{"x":{"field":"H","type":"quantitative","scale":{"domain":[-1973.4,706.2],"nice":false,"zero":false},"axis":null},
  "y":{"datum":-1.668,"type":"quantitative","scale":{"domain":[-8.572,4.584],"nice":false,"zero":false},"axis":null},"text":{"field":"t"}}},
{"data":{"values":[{"M":1,"t":"1"},{"M":0,"t":"0"},{"M":-1,"t":"-1"}]},
 "mark":{"type":"text","fontSize":24,"align":"right","baseline":"middle","color":"black"},
 "encoding":{"y":{"field":"M","type":"quantitative","scale":{"domain":[-8.572,4.584],"nice":false,"zero":false},"axis":null},
  "x":{"datum":-550,"type":"quantitative","scale":{"domain":[-1973.4,706.2],"nice":false,"zero":false},"axis":null},"text":{"field":"t"}}},
{"data":{"values":[{"t":"H","H":-190,"M":-2.035}]},
 "mark":{"type":"text","fontSize":29,"fontStyle":"italic","align":"left","baseline":"alphabetic","color":"black"},
 "encoding":{"x":{"field":"H","type":"quantitative","scale":{"domain":[-1973.4,706.2],"nice":false,"zero":false},"axis":null},
  "y":{"field":"M","type":"quantitative","scale":{"domain":[-8.572,4.584],"nice":false,"zero":false},"axis":null},"text":{"field":"t"}}},
{"data":{"values":[{"t":"(Oe)","H":-65.6,"M":-2.035}]},
 "mark":{"type":"text","fontSize":29,"align":"left","baseline":"alphabetic","color":"black"},
 "encoding":{"x":{"field":"H","type":"quantitative","scale":{"domain":[-1973.4,706.2],"nice":false,"zero":false},"axis":null},
  "y":{"field":"M","type":"quantitative","scale":{"domain":[-8.572,4.584],"nice":false,"zero":false},"axis":null},"text":{"field":"t"}}},
{"data":{"values":[{"t":"M/M","H":-683,"M":-0.385}]},
 "mark":{"type":"text","fontSize":24,"fontStyle":"italic","angle":270,"align":"left","baseline":"alphabetic","color":"black"},
 "encoding":{"x":{"field":"H","type":"quantitative","scale":{"domain":[-1973.4,706.2],"nice":false,"zero":false},"axis":null},
  "y":{"field":"M","type":"quantitative","scale":{"domain":[-8.572,4.584],"nice":false,"zero":false},"axis":null},"text":{"field":"t"}}},
{"data":{"values":[{"t":"s","H":-662,"M":0.206}]},
 "mark":{"type":"text","fontSize":17,"angle":270,"align":"left","baseline":"alphabetic","color":"black"},
 "encoding":{"x":{"field":"H","type":"quantitative","scale":{"domain":[-1973.4,706.2],"nice":false,"zero":false},"axis":null},
  "y":{"field":"M","type":"quantitative","scale":{"domain":[-8.572,4.584],"nice":false,"zero":false},"axis":null},"text":{"field":"t"}}},
{"data":{"values":[{"t":"(b)","H":-422.7,"M":0.81}]},
 "mark":{"type":"text","fontSize":22,"align":"left","baseline":"alphabetic","color":"black"},
 "encoding":{"x":{"field":"H","type":"quantitative","scale":{"domain":[-1973.4,706.2],"nice":false,"zero":false},"axis":null},
  "y":{"field":"M","type":"quantitative","scale":{"domain":[-8.572,4.584],"nice":false,"zero":false},"axis":null},"text":{"field":"t"}}},

{"data":{"name":"linesC"},
 "mark":{"type":"line","color":"black","strokeWidth":1.2},
 "encoding":{"x":{"field":"u","type":"quantitative","scale":{"domain":[-2.04,4.21],"nice":false,"zero":false},"axis":null},
  "y":{"field":"v","type":"quantitative","scale":{"domain":[-4.02,6.44],"nice":false,"zero":false},"axis":null},"detail":{"field":"seg"},"order":{"value":null}}},
{"data":{"name":"arcsC"},
 "mark":{"type":"line","color":"black","strokeWidth":1,"interpolate":"cardinal"},
 "encoding":{"x":{"field":"u","type":"quantitative","scale":{"domain":[-2.04,4.21],"nice":false,"zero":false},"axis":null},
  "y":{"field":"v","type":"quantitative","scale":{"domain":[-4.02,6.44],"nice":false,"zero":false},"axis":null},"detail":{"field":"seg"},"order":{"value":null}}},
{"data":{"values":[{"u":-1.523,"v":-0.277},{"u":1.527,"v":0.263}]},
 "mark":{"type":"line","color":"black","strokeWidth":1.1,"strokeDash":[5,4]},
 "encoding":{"x":{"field":"u","type":"quantitative","scale":{"domain":[-2.04,4.21],"nice":false,"zero":false},"axis":null},
  "y":{"field":"v","type":"quantitative","scale":{"domain":[-4.02,6.44],"nice":false,"zero":false},"axis":null},"order":{"value":null}}},
{"data":{"name":"shaftsC"},
 "mark":{"type":"rule","color":"black"},
 "encoding":{"x":{"field":"u0","type":"quantitative","scale":{"domain":[-2.04,4.21],"nice":false,"zero":false},"axis":null},"x2":{"field":"u1"},
  "y":{"field":"v0","type":"quantitative","scale":{"domain":[-4.02,6.44],"nice":false,"zero":false},"axis":null},"y2":{"field":"v1"},
  "strokeWidth":{"field":"vector","type":"nominal","scale":{"domain":["M1","M2","H"],"range":[2.3,2.5,4.8]},"legend":null}}},
{"data":{"name":"headsC"},
 "mark":{"type":"line","fill":"black","stroke":"black","strokeWidth":1,"strokeJoin":"miter"},
 "encoding":{"x":{"field":"u","type":"quantitative","scale":{"domain":[-2.04,4.21],"nice":false,"zero":false},"axis":null},
  "y":{"field":"v","type":"quantitative","scale":{"domain":[-4.02,6.44],"nice":false,"zero":false},"axis":null},"detail":{"field":"vector"},"order":{"value":null}}},
{"data":{"values":[{"t":"(c)","u":-1.69,"v":1.65}]},
 "mark":{"type":"text","fontSize":22,"align":"left","baseline":"alphabetic","color":"black"},
 "encoding":{"x":{"field":"u","type":"quantitative","scale":{"domain":[-2.04,4.21],"nice":false,"zero":false},"axis":null},
  "y":{"field":"v","type":"quantitative","scale":{"domain":[-4.02,6.44],"nice":false,"zero":false},"axis":null},"text":{"field":"t"}}},
{"data":{"values":[{"t":"hard","u":-0.36,"v":1.69},{"t":"axis","u":-0.36,"v":1.39},{"t":"easy","u":1.83,"v":-0.27},{"t":"axis","u":1.83,"v":-0.56}]},
 "mark":{"type":"text","fontSize":23,"align":"center","baseline":"alphabetic","color":"black"},
 "encoding":{"x":{"field":"u","type":"quantitative","scale":{"domain":[-2.04,4.21],"nice":false,"zero":false},"axis":null},
  "y":{"field":"v","type":"quantitative","scale":{"domain":[-4.02,6.44],"nice":false,"zero":false},"axis":null},"text":{"field":"t"}}},
{"data":{"values":[{"t":"M","u":0.41,"v":1.223},{"t":"H","u":0.93,"v":0.76},{"t":"M","u":0.53,"v":-1.13}]},
 "mark":{"type":"text","fontSize":27,"fontWeight":"bold","align":"left","baseline":"alphabetic","color":"black"},
 "encoding":{"x":{"field":"u","type":"quantitative","scale":{"domain":[-2.04,4.21],"nice":false,"zero":false},"axis":null},
  "y":{"field":"v","type":"quantitative","scale":{"domain":[-4.02,6.44],"nice":false,"zero":false},"axis":null},"text":{"field":"t"}}},
{"data":{"values":[{"t":"1","u":0.65,"v":1.19},{"t":"2","u":0.77,"v":-1.18},{"t":"d","u":0.35,"v":0.36},{"t":"m","u":1.2,"v":-0.32}]},
 "mark":{"type":"text","fontSize":16,"align":"left","baseline":"alphabetic","color":"black"},
 "encoding":{"x":{"field":"u","type":"quantitative","scale":{"domain":[-2.04,4.21],"nice":false,"zero":false},"axis":null},
  "y":{"field":"v","type":"quantitative","scale":{"domain":[-4.02,6.44],"nice":false,"zero":false},"axis":null},"text":{"field":"t"}}},
{"data":{"values":[{"t":"H","u":0.6,"v":-0.32}]},
 "mark":{"type":"text","fontSize":16,"fontStyle":"italic","align":"left","baseline":"alphabetic","color":"black"},
 "encoding":{"x":{"field":"u","type":"quantitative","scale":{"domain":[-2.04,4.21],"nice":false,"zero":false},"axis":null},
  "y":{"field":"v","type":"quantitative","scale":{"domain":[-4.02,6.44],"nice":false,"zero":false},"axis":null},"text":{"field":"t"}}},
{"data":{"values":[{"t":"φ","u":0.16,"v":0.41},{"t":"φ","u":0.41,"v":-0.25},{"t":"φ","u":1.01,"v":-0.25}]},
 "mark":{"type":"text","fontSize":32,"font":"Liberation Serif","fontStyle":"italic","align":"left","baseline":"alphabetic","color":"black"},
 "encoding":{"x":{"field":"u","type":"quantitative","scale":{"domain":[-2.04,4.21],"nice":false,"zero":false},"axis":null},
  "y":{"field":"v","type":"quantitative","scale":{"domain":[-4.02,6.44],"nice":false,"zero":false},"axis":null},"text":{"field":"t"}}},

{"data":{"name":"caption"},"transform":[{"filter":"datum.st==='n'"}],
 "mark":{"type":"text","fontSize":18.4,"font":"Open Sans","align":"left","baseline":"alphabetic","color":"#333333"},
 "encoding":{"x":{"field":"em","type":"quantitative","scale":{"domain":[-1.4674,32.5],"nice":false,"zero":false},"axis":null},
  "y":{"field":"ln","type":"quantitative","scale":{"domain":[-33.377,8.705],"nice":false,"zero":false,"reverse":true},"axis":null},"text":{"field":"t"}}},
{"data":{"name":"caption"},"transform":[{"filter":"datum.st==='b'"}],
 "mark":{"type":"text","fontSize":18.4,"font":"Open Sans","fontWeight":"bold","align":"left","baseline":"alphabetic","color":"#111111"},
 "encoding":{"x":{"field":"em","type":"quantitative","scale":{"domain":[-1.4674,32.5],"nice":false,"zero":false},"axis":null},
  "y":{"field":"ln","type":"quantitative","scale":{"domain":[-33.377,8.705],"nice":false,"zero":false,"reverse":true},"axis":null},"text":{"field":"t"}}},
{"data":{"name":"caption"},"transform":[{"filter":"datum.st==='i'"}],
 "mark":{"type":"text","fontSize":18.4,"font":"Open Sans","fontStyle":"italic","align":"left","baseline":"alphabetic","color":"#333333"},
 "encoding":{"x":{"field":"em","type":"quantitative","scale":{"domain":[-1.4674,32.5],"nice":false,"zero":false},"axis":null},
  "y":{"field":"ln","type":"quantitative","scale":{"domain":[-33.377,8.705],"nice":false,"zero":false,"reverse":true},"axis":null},"text":{"field":"t"}}},
{"data":{"name":"caption"},"transform":[{"filter":"datum.st==='s'"}],
 "mark":{"type":"text","fontSize":11.3,"font":"Open Sans","align":"left","baseline":"alphabetic","dy":3,"color":"#111111"},
 "encoding":{"x":{"field":"em","type":"quantitative","scale":{"domain":[-1.4674,32.5],"nice":false,"zero":false},"axis":null},
  "y":{"field":"ln","type":"quantitative","scale":{"domain":[-33.377,8.705],"nice":false,"zero":false,"reverse":true},"axis":null},"text":{"field":"t"}}}
]
}
